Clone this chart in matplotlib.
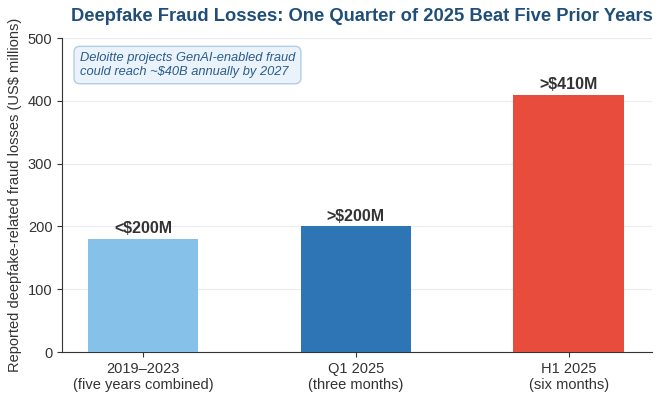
import matplotlib.pyplot as plt
import numpy as np

plt.rcParams['font.family'] = ['Liberation Sans', 'DejaVu Sans']

categories = ['2019–2023\n(five years combined)', 'Q1 2025\n(three months)', 'H1 2025\n(six months)']
losses = [180, 200, 410]
bar_labels = ['<$200M', '>$200M', '>$410M']
colors = ['#85C1E9', '#2E75B6', '#E74C3C']

fig = plt.figure(figsize=(6.61, 4.0), dpi=100)
ax = fig.add_axes([0.094, 0.12, 0.892, 0.785])

x = np.arange(len(categories))
ax.bar(x, losses, width=0.52, color=colors, zorder=3)

for xi, val, lab in zip(x, losses, bar_labels):
    ax.text(xi, val + 4, lab, ha='center', va='bottom', fontsize=11.5,
            fontweight='bold', color='#333333', zorder=4)

ax.set_xlim(-0.38, 2.39)
ax.set_ylim(0, 500)
ax.set_yticks(np.arange(0, 501, 100))
ax.set_xticks(x)
ax.set_xticklabels(categories, fontsize=10.5, color='#333333')
ax.tick_params(axis='y', labelsize=10.5, labelcolor='#333333')
ax.tick_params(colors='#333333')
ax.set_ylabel('Reported deepfake-related fraud losses (US$ millions)', fontsize=10.5, color='#333333')

ax.grid(axis='y', color='#e8ecf2', linewidth=0.8, zorder=0)
ax.spines['top'].set_visible(False)
ax.spines['right'].set_visible(False)
ax.spines['left'].set_color('#333333')
ax.spines['bottom'].set_color('#333333')

ax.set_title('Deepfake Fraud Losses: One Quarter of 2025 Beat Five Prior Years',
             fontsize=13.2, fontweight='bold', color='#1F4E79', pad=12, x=0.508)

ax.text(0.03, 0.955, 'Deloitte projects GenAI-enabled fraud\ncould reach ~$40B annually by 2027',
        transform=ax.transAxes, ha='left', va='top', fontsize=9.3, style='italic',
        color='#2B5C8A', zorder=5,
        bbox=dict(boxstyle='round,pad=0.45', facecolor='#EAF2FB', edgecolor='#B3CDE6', linewidth=1))

fig.savefig('out.png', dpi=100)
